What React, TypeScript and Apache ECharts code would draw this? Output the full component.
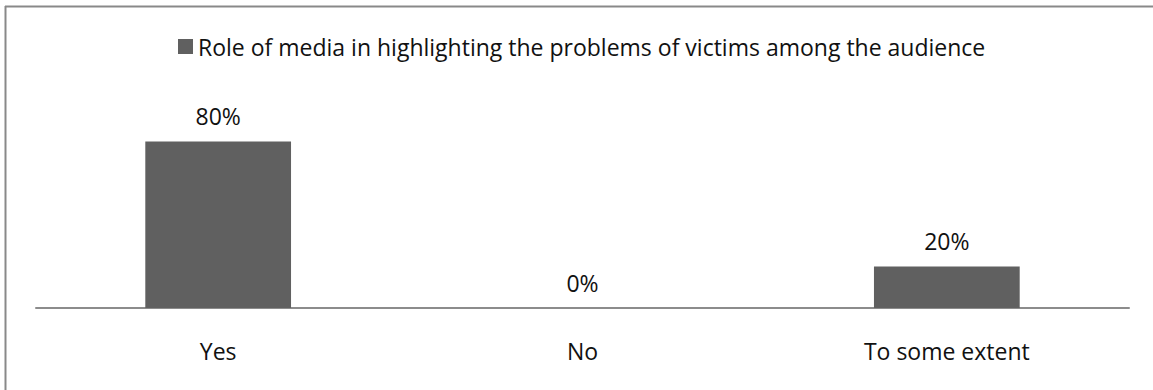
import React, { useEffect, useRef } from "react";
import * as echarts from "echarts";

const categories = ["Yes", "No", "To some extent"];
const values = [80, 0, 20];
const seriesName = "Role of media in highlighting the problems of victims among the audience";

export default function App() {
  const ref = useRef<HTMLDivElement>(null);
  useEffect(() => {
    const chart = echarts.init(ref.current!, null, { renderer: "svg" });
    const font = "'Open Sans', sans-serif";
    chart.setOption({
      animation: false,
      backgroundColor: "#ffffff",
      legend: {
        data: [seriesName],
        top: 30,
        left: 173,
        icon: "rect",
        itemWidth: 15,
        itemHeight: 15,
        itemGap: 5,
        textStyle: { fontFamily: font, fontSize: 23, color: "#111" },
      },
      grid: { left: 36, right: 24, top: 100, bottom: 82 },
      xAxis: {
        type: "category",
        data: categories,
        axisLine: { lineStyle: { color: "#8c8c8c", width: 2 } },
        axisTick: { show: false },
        axisLabel: { margin: 31, fontFamily: font, fontSize: 23, color: "#111" },
      },
      yAxis: {
        type: "value",
        min: 0,
        max: 100,
        show: false,
        splitLine: { show: false },
      },
      series: [
        {
          name: seriesName,
          type: "bar",
          data: values,
          barCategoryGap: "60%",
          itemStyle: { color: "#606060" },
          label: {
            show: true,
            position: "top",
            distance: 14,
            formatter: "{c}%",
            fontFamily: font,
            fontSize: 23,
            color: "#111",
          },
        },
      ],
      graphic: [
        { type: "line", shape: { x1: 5, y1: 6.5, x2: 1153, y2: 6.5 }, style: { stroke: "#898989", lineWidth: 2 } },
        { type: "line", shape: { x1: 5.5, y1: 6, x2: 5.5, y2: 390 }, style: { stroke: "#898989", lineWidth: 2 } },
      ],
    });
    return () => chart.dispose();
  }, []);
  return <div ref={ref} style={{ position: "fixed", left: 0, top: 0, width: 1153, height: 390 }} />;
}
